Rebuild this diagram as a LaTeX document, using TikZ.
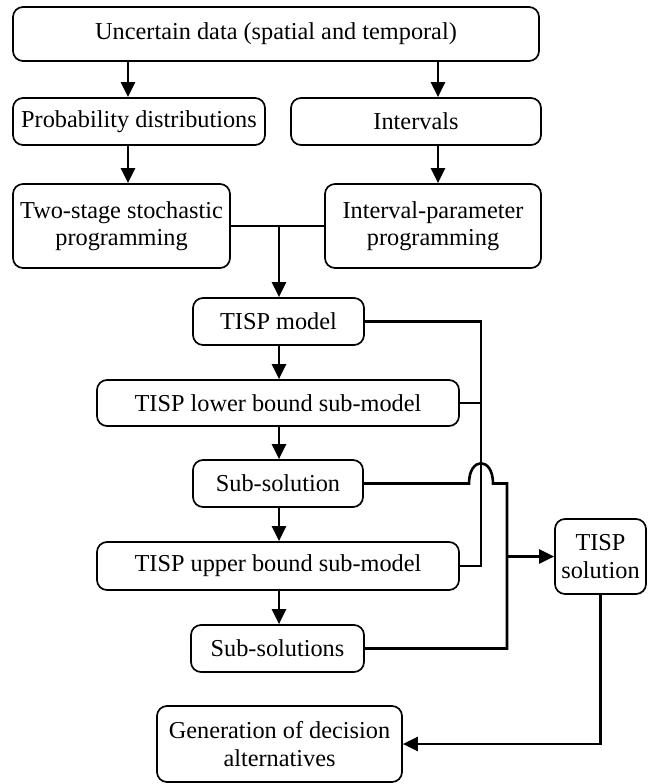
\documentclass[tikz,border=0pt]{standalone}
\usepackage{fontspec}
\setmainfont{Liberation Serif}
\newfontfamily\tnr{Liberation Serif}
\usetikzlibrary{arrows.meta,calc}
\begin{document}
\begin{tikzpicture}[x=1pt,y=-1pt,
  box/.style={draw=black,line width=1.7pt,rounded corners=10pt,rectangle,inner sep=0pt,align=center,
    font=\tnr\fontsize{24.3}{27.6}\selectfont},
  conn/.style={draw=black,line width=2.6pt},
  arr/.style={conn,-{Triangle[length=15pt,width=14pt]}}]
\fill[white] (0,0) rectangle (652,784);
\useasboundingbox (0,0) rectangle (652,784);
\node[box,minimum width=526pt,minimum height=54pt] (ud) at (276,34) {Uncertain data (spatial and temporal)};
\node[box,minimum width=252pt,minimum height=47pt] (prob) at (139,121.5) {Probability distributions};
\node[box,minimum width=250pt,minimum height=47pt] (int) at (416,121.5) {Intervals};
\node[box,minimum width=217pt,minimum height=84pt] (ts) at (121.5,226) {Two-stage stochastic\\programming};
\node[box,minimum width=216pt,minimum height=84pt] (ip) at (433,226) {Interval-parameter\\programming};
\node[box,minimum width=171pt,minimum height=47pt] (tm) at (278.5,321.5) {TISP model};
\node[box,minimum width=362pt,minimum height=46pt] (lb) at (278,403) {TISP lower bound sub-model};
\node[box,minimum width=170pt,minimum height=47pt] (ss) at (278,483.5) {Sub-solution};
\node[box,minimum width=362pt,minimum height=48pt] (ub) at (278,566) {TISP upper bound sub-model};
\node[box,minimum width=173pt,minimum height=47pt] (sss) at (277.5,648.5) {Sub-solutions};
\node[box,minimum width=245pt,minimum height=76pt] (gen) at (279.5,744) {Generation of decision\\alternatives};
\node[box,minimum width=91pt,minimum height=75pt] (sol) at (600.5,556.5) {TISP\\solution};
\coordinate (cL) at (128,0);
\coordinate (cR) at (438,0);
\coordinate (cx) at (279,0);
\coordinate (bus) at (481,0);
\coordinate (rr) at (507,0);
\coordinate (j) at (279,226);
\draw[arr] (ud.south -| cL) -- (prob.north -| cL);
\draw[arr] (ud.south -| cR) -- (int.north -| cR);
\draw[arr] (prob.south -| cL) -- (ts.north -| cL);
\draw[arr] (int.south -| cR) -- (ip.north -| cR);
\draw[conn] (ts.east) -- (ip.west);
\draw[arr] (j) -- (tm.north -| j);
\draw[arr] (tm.south -| cx) -- (lb.north -| cx);
\draw[arr] (lb.south -| cx) -- (ss.north -| cx);
\draw[arr] (ss.south -| cx) -- (ub.north -| cx);
\draw[arr] (ub.south -| cx) -- (sss.north -| cx);
\draw[conn] (tm.east) -- (tm.east -| bus) -- (ub.east -| bus) -- (ub.east);
\draw[conn] (lb.east) -- (lb.east -| bus);
\draw[conn] (ss.east) -- ($(ss.east -| bus)+(-12,0)$) .. controls +(0,-27) and +(0,-27) .. ($(ss.east -| bus)+(12,0)$) -- (ss.east -| rr) -- (sss.east -| rr) -- (sss.east);
\draw[arr] (sol.west -| rr) -- (sol.west);
\draw[arr] (sol.south) -- (gen.east -| sol.south) -- (gen.east);
\end{tikzpicture}
\end{document}
